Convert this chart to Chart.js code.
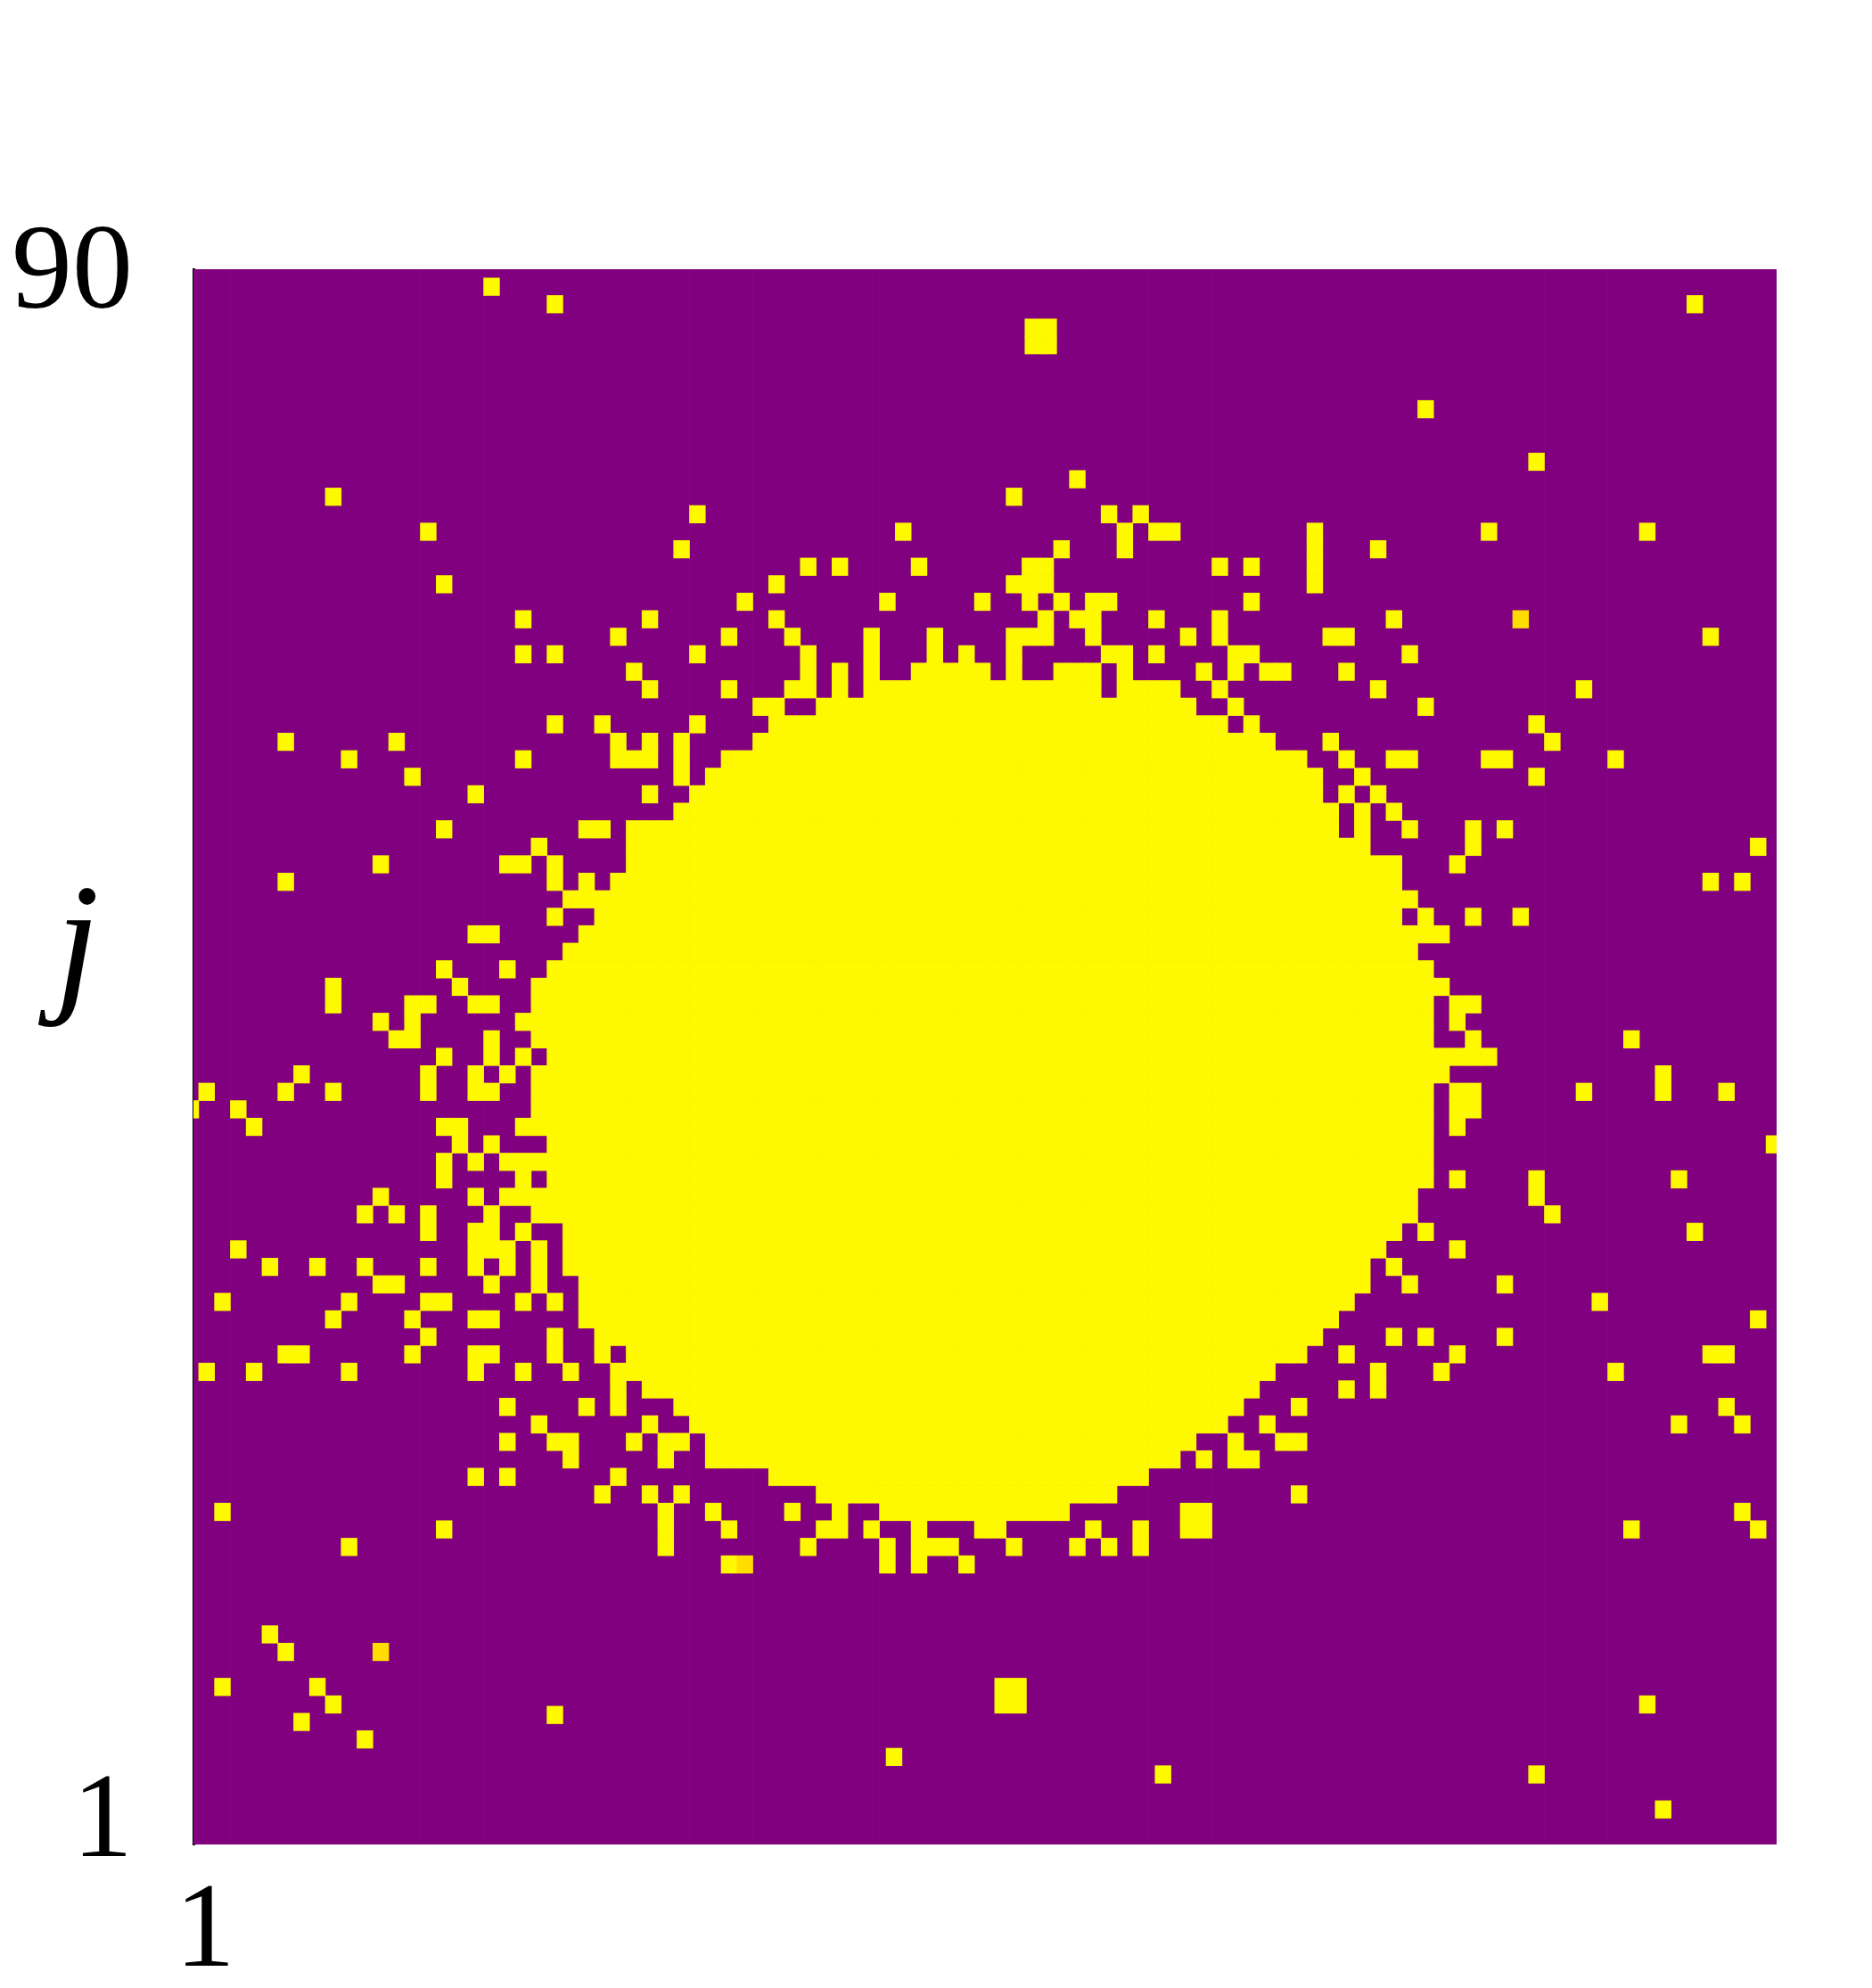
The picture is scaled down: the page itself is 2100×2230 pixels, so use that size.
<!DOCTYPE html>
<html>
<head>
<meta charset="utf-8">
<style>html,body{margin:0;padding:0;background:#fff}#wrap{width:2100px;height:2230px;position:relative}</style>
<script src="https://cdn.jsdelivr.net/npm/chart.js@4"></script>
</head>
<body>
<div id="wrap"><canvas id="c" width="2100" height="2230"></canvas></div>
<script>
// yellow cells, listed per row (top row first); entries are column numbers or a-b runs
const yellowByRow = [
"", "19", "23 95", "", "", "", "", "", "78", "", "", "85", "56", "9 52", "32 58 60",
"15 45 59 61-62 71 82 92",
"31 55 59 71 75",
"39 41 46 53-54 65 67 71",
"16 37 52-54 71",
"35 44 50 53 55 57-58 67",
"21 29 37 54 56-57 61 65 76",
"27 34 38 43 47 52-54 57 63 65 72-73 96",
"21 23 32 39 43 47 49 52 58-59 61 66-67 77",
"28 39 41 43 46-50 52 55-57 59 64 66 68-69 73",
"29 34 38-39 41 43-57 59-62 65 75 88",
"36-37 40-63 66 78",
"23 26 32 37-65 67 85",
"6 13 27 29 31 36-68 72 86",
"10 21 27-29 31 34-70 73 76-77 82-83 90",
"14 31 33-71 74 85",
"18 29 32-71 73 75",
"31-72 74 76",
"16 25-26 28-72 74 77 81 83",
"22 28-74 81 99",
"12 20-21 23 28-76 80",
"6 23 25 27-76 96 98",
"24-77",
"23 26-76 78 81 84",
"18-19 25-79",
"24-77",
"16 20 23-78",
"9 17 22-79",
"9 14-15 18-19 22-78 80-81",
"12 14 21-78 80",
"13-14 19 22-78 81 91",
"16 19 21 23-82",
"7 15 18 20 22-79 93",
"1 6 9 15 18-19 22-78 80-81 88 93 97",
"0 3 22-78 80-81",
"4 16-17 21-78 80",
"17 19 23-78 100",
"16 18 20-78",
"16 21 23-78 80 85 94",
"12 18 20-77 85",
"11 13 15 19 22-77 86",
"15 18-19 21 24-76 78 95",
"3 18-20 22 24-75 80",
"5 8 11 15 18 20 22 24-74 76",
"12-13 19 22 25-74 77 83",
"2 10 15-16 21 23 25-73 89",
"9 14 18-19 25-72 99",
"15 23 26-71 76 78 83",
"6-7 14 18-19 23 26 28-70 73 80 96-97",
"1 4 10 18 21 24 27-68 75 79 90",
"27 29-67 73 75",
"20 25 27 31-66 70 97",
"22 29 32-65 68 94 98",
"20 23-24 28 30-31 33-63 66 69-70",
"24 30 33-62 64 66-67",
"18 20 27 37-60",
"26 29 31 40-58 70",
"2 30 33 38 41 44-55 63-64 98",
"16 30 34 40-41 43 46 50-51 57 60 63-64 91 99",
"10 30 39 44 46-48 52 56 58 60",
"34 44 46 49",
"", "", "",
"5", "6", "", "2 8", "9 92", "7", "11", "", "85", "", "93", "", ""
];
// slightly darker cells, as [column, row]
const goldCells = [[84, 20], [12, 79], [35, 74]];
// cells lying off the regular lattice in the picture, as [column, row]
const offGridCells = [
  [23, 82.6], [44.42, 85], [61.41, 86],
  [51.28, 81], [52.28, 81], [51.28, 82], [52.28, 82],
  [53.19, 3.34], [54.19, 3.34], [53.19, 4.34], [54.19, 4.34]
];
const columnCount = 100, rowCount = 90;
const xStartLabel = "1", xEndLabel = "90", xTitle = "i";
const yTickValues = [1.17, 89.65], yTickLabels = ["1", "90"], yTitle = "j";
const xStartPos = 0.9, xEndPos = 100.8, xTitlePos = 49.66, yTitlePos = 51;

const PURPLE = "#800080", YELLOW = "#FFF900", GOLD = "#FFDD00";
const rowToY = r => rowCount - r;
const bar = (c, r, span = 1) => ({ x: c, y: [rowToY(r) - span / 2, rowToY(r) + span / 2] });

const yellowBars = [];
yellowByRow.forEach((txt, r) => {
  txt.split(" ").filter(Boolean).forEach(tok => {
    const [a, b] = tok.split("-").map(Number);
    for (let c = a; c <= (b === undefined ? a : b); c++) yellowBars.push(bar(c, r));
  });
});
offGridCells.forEach(([c, r]) => yellowBars.push(bar(c, r)));
const goldBars = goldCells.map(([c, r]) => bar(c, r));

const cols = Array.from({ length: columnCount + 1 }, (_, c) => c);
const purpleBars = cols.map(c => bar(c, rowCount / 2, rowCount));

const AREA = { left: 217, right: 1993, top: 302, bottom: 2069 };
const W = 2100, H = 2230;
const cellW = (AREA.right - AREA.left) / columnCount;
const SERIF = "'Liberation Serif'";

const ds = (data, color, label, order) => ({
  label, data, backgroundColor: color, borderWidth: 0, order,
  parsing: { xAxisKey: "x", yAxisKey: "y" },
  barThickness: cellW + 0.02, grouped: false, xAxisID: "x", yAxisID: "y"
});
function labelAxis(horizontal, values, labels, font, extent, padding, weight, mirror) {
  return {
    type: "linear",
    position: horizontal ? "bottom" : "left",
    offset: false,
    min: horizontal ? 1 / 6 : 0,
    max: horizontal ? columnCount + 1 / 6 : rowCount,
    weight,
    afterBuildTicks: s => { s.ticks = values.map((v, k) => ({ value: v, label: labels[k] })); },
    afterFit: s => {
      if (horizontal) s.height = extent; else s.width = extent;
      s.paddingLeft = s.paddingRight = s.paddingTop = s.paddingBottom = 0;
    },
    grid: { display: false, drawTicks: false, offset: false },
    border: { display: false },
    ticks: {
      autoSkip: false, maxRotation: 0, minRotation: 0, padding, mirror: !!mirror, color: "#000", font,
      callback: (v, i, t) => t[i].label
    }
  };
}
const numberFont = size => ({ family: SERIF, size, lineHeight: 1 });
const letterFont = { family: SERIF, size: 178, style: "italic", lineHeight: 1 };

const yMain = labelAxis(false, yTickValues, yTickLabels, numberFont(136), AREA.left, 68, 0);
yMain.border = { display: true, color: "#000", width: 3 };

new Chart(document.getElementById("c"), {
  type: "bar",
  data: { datasets: [
    ds(goldBars, GOLD, "gold", 1),
    ds(yellowBars, YELLOW, "yellow", 2),
    ds(purpleBars, PURPLE, "background", 3)
  ] },
  options: {
    responsive: false, animation: false, events: [],
    layout: { padding: { left: 0, right: W - AREA.right, top: AREA.top, bottom: 0 } },
    plugins: { legend: { display: false }, tooltip: { enabled: false }, title: { display: false } },
    datasets: { bar: { categoryPercentage: 1, barPercentage: 1 } },
    scales: {
      x: labelAxis(true, [xStartPos], [xStartLabel], numberFont(135), H - AREA.bottom, 33, 0),
      xTitleAxis: labelAxis(true, [xTitlePos], [xTitle], letterFont, 0, 15, -10),
      xEndAxis: labelAxis(true, [xEndPos], [xEndLabel], numberFont(148), 0, 42, -9),
      y: yMain,
      yTitleAxis: labelAxis(false, [yTitlePos], [yTitle], letterFont, 0, 62, 10, true)
    }
  }
});
</script>
</body>
</html>
